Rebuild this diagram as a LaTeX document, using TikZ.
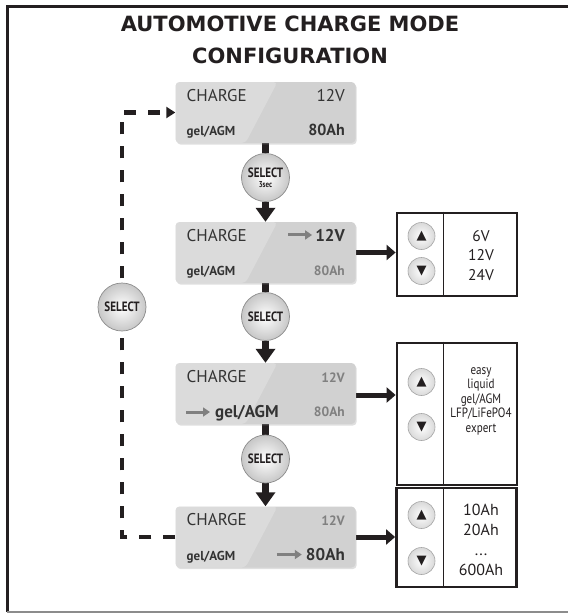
\documentclass[tikz,border=0pt]{standalone}
\usepackage{fontspec}
\setmainfont{PT Sans}
\newfontfamily\titlefont{DejaVu Sans}
\newfontfamily\symfont{DejaVu Sans}
\newfontfamily\condfont[FakeStretch=0.82]{PT Sans}
\usetikzlibrary{arrows.meta,shadows,calc}
\definecolor{ink}{HTML}{231F20}
\pgfdeclarelayer{bg}
\pgfsetlayers{bg,main}
\begin{document}
\begin{tikzpicture}[x=1pt,y=-1pt,
  disp/.style={rectangle, rounded corners=4pt, minimum width=180pt, minimum height=61pt, inner sep=0pt,
    fill=black!18, drop shadow={shadow xshift=1.2pt, shadow yshift=-1.6pt, opacity=0.25},
    path picture={\fill[white,opacity=0.22] (path picture bounding box.north west) -- ++(102,0) -- ++(-32,61) -- (path picture bounding box.south west) -- cycle;}},
  selbtn/.style={circle, minimum size=48pt, inner sep=0pt, draw=black!45, line width=0.7pt,
    inner color=white, outer color=black!22, font=\condfont\bfseries\fontsize{13.5}{13.5}\selectfont, text=ink, align=center},
  arrbtn/.style={circle, minimum size=27pt, inner sep=0pt, draw=black!35, line width=0.6pt,
    inner color=white, outer color=black!15, font=\symfont\fontsize{13}{13}\selectfont, text=ink},
  optbox/.style={rectangle, draw=ink, line width=2.8pt, minimum width=120pt, inner sep=0pt},
  divl/.style={draw=ink, line width=1pt},
  flow/.style={draw=ink, line width=7.5pt},
  flowarr/.style={flow, -{Triangle[length=14pt,width=19pt]}},
  harr/.style={draw=ink, line width=5pt, -{Triangle[length=9pt,width=15pt]}},
  dashl/.style={draw=ink, line width=4.5pt, dash pattern=on 12pt off 12pt, -{Triangle[length=9pt,width=11pt]}},
  garr/.style={draw=black!50, line width=3pt, -{Triangle[length=7pt,width=9pt]}},
  lbl/.style={inner sep=0pt, text=black!80},
  big/.style={lbl, font=\fontsize{17}{17}\selectfont},
  bigb/.style={lbl, font=\bfseries\fontsize{17}{17}\selectfont},
  midb/.style={lbl, font=\bfseries\fontsize{16}{16}\selectfont},
  smallb/.style={lbl, font=\bfseries\fontsize{13}{13}\selectfont},
  dim/.style={lbl, text=black!50, font=\bfseries\fontsize{13.5}{13.5}\selectfont},
  titlest/.style={inner sep=0pt, text=ink, font=\titlefont\bfseries\fontsize{21}{21}\selectfont},
  opttxt/.style={inner sep=0pt, text=ink, align=center}
]
\useasboundingbox (0,0) rectangle (568,614);
\begin{pgfonlayer}{bg}
\fill[white] (0,0) rectangle (568,614);
\end{pgfonlayer}
% frame
\draw[ink, line width=3pt] (568,6) -- (7,6) -- (7,612);
\draw[black!45, line width=1.2pt] (7,612) -- (568,612);

% title
\node[titlest] (t1) at (290,24) {AUTOMOTIVE CHARGE MODE};
\node[titlest] (t2) at (290,55.5) {CONFIGURATION};

% display boxes
\node[disp] (d1) at (265.5,112.5) {};
\node[disp] (d2) at (265.5,252.5) {};
\node[disp] (d3) at (265.5,393.5) {};
\node[disp] (d4) at (265.5,537) {};

% box 1 texts
\node[big, anchor=base west] (d1a) at ($(d1.center)+(-79,-11.5)$) {CHARGE};
\node[big, anchor=base east] (d1b) at ($(d1.center)+(79.5,-11.5)$) {12V};
\node[smallb, anchor=base west] (d1c) at ($(d1.center)+(-79,22.5)$) {gel/AGM};
\node[midb, anchor=base east] (d1d) at ($(d1.center)+(79.5,22.5)$) {80Ah};

% box 2 texts
\node[big, anchor=base west] (d2a) at ($(d2.center)+(-79,-11.5)$) {CHARGE};
\node[bigb, anchor=base east] (d2b) at ($(d2.center)+(79.5,-11.5)$) {12V};
\node[smallb, anchor=base west] (d2c) at ($(d2.center)+(-79,22.5)$) {gel/AGM};
\node[dim, anchor=base east] (d2d) at ($(d2.center)+(79.5,22.5)$) {80Ah};
\draw[garr] ($(d2b.west)+(-27,0)$) -- ($(d2b.west)+(-3,0)$);

% box 3 texts
\node[big, anchor=base west] (d3a) at ($(d3.center)+(-79,-11.5)$) {CHARGE};
\node[dim, anchor=base east] (d3b) at ($(d3.center)+(79.5,-11.5)$) {12V};
\node[bigb, anchor=base west] (d3c) at ($(d3.center)+(-50.5,24)$) {gel/AGM};
\node[dim, anchor=base east] (d3d) at ($(d3.center)+(79.5,22.5)$) {80Ah};
\draw[garr] ($(d3c.base west)+(-29,-5.5)$) -- ($(d3c.base west)+(-5,-5.5)$);

% box 4 texts
\node[big, anchor=base west] (d4a) at ($(d4.center)+(-79,-11.5)$) {CHARGE};
\node[dim, anchor=base east] (d4b) at ($(d4.center)+(79.5,-11.5)$) {12V};
\node[smallb, anchor=base west] (d4c) at ($(d4.center)+(-79,23)$) {gel/AGM};
\node[bigb, anchor=base east] (d4d) at ($(d4.center)+(79.5,23.5)$) {80Ah};
\draw[garr] ($(d4d.west)+(-29,0)$) -- ($(d4d.west)+(-4,0)$);

% select buttons
\node[selbtn] (s1) at (265.5,177.5) {SELECT\\[-3.5pt]{\fontsize{8.5}{8.5}\selectfont 3sec}};
\node[selbtn] (s2) at (265.5,316.5) {SELECT};
\node[selbtn] (s3) at (265.5,459) {SELECT};
\node[selbtn] (sL) at (122,307) {SELECT};

% option boxes
\node[optbox, minimum height=83pt] (oA) at (457,254.5) {};
\node[optbox, minimum height=142pt] (oB) at (457,414) {};
\node[optbox, minimum height=99pt] (oC) at (456.5,537.5) {};
\draw[divl] ($(oA.north west)+(48,0)$) -- ($(oA.south west)+(48,0)$);
\draw[divl] ($(oB.north west)+(48,0)$) -- ($(oB.south west)+(48,0)$);
\draw[divl] ($(oC.north west)+(48,0)$) -- ($(oC.south west)+(48,0)$);

\node[arrbtn] (uA) at (421.5,236) {▲};
\node[arrbtn] (dA) at (421.5,271) {▼};
\node[arrbtn] (uB) at (421.5,382) {▲};
\node[arrbtn] (dB) at (421.5,427) {▼};
\node[arrbtn] (uC) at (421.5,515) {▲};
\node[arrbtn] (dC) at (421.5,561) {▼};

\node[opttxt, font=\fontsize{15.5}{19.5}\selectfont] (tA) at (481,255.5) {6V\\12V\\24V};
\node[opttxt, font=\condfont\fontsize{13.5}{14.5}\selectfont] (tB) at (481,401) {easy\\liquid\\gel/AGM\\LFP/LiFePO4\\expert};
\node[opttxt, font=\fontsize{16}{20}\selectfont] (tC) at (481,540) {10Ah\\20Ah\\...\\600Ah};

% connectors
\begin{pgfonlayer}{bg}
\draw[flow] (d1.south) -- (s1.north);
\draw[flowarr] (s1.south) -- (d2.north);
\draw[flow] (d2.south) -- (s2.north);
\draw[flowarr] (s2.south) -- (d3.north);
\draw[flow] (d3.south) -- (s3.north);
\draw[flowarr] (s3.south) -- (d4.north);
\draw[harr] (d2.east) -- (d2.east -| oA.west);
\draw[harr] ($(d3.east)+(0,1.5)$) -- ($(d3.east -| oB.west)+(0,1.5)$);
\draw[harr] (d4.east) -- (d4.east -| oC.west);
\draw[dashl] (d4.west) -| (sL.center) |- (d1.west);
\end{pgfonlayer}
\end{tikzpicture}
\end{document}
